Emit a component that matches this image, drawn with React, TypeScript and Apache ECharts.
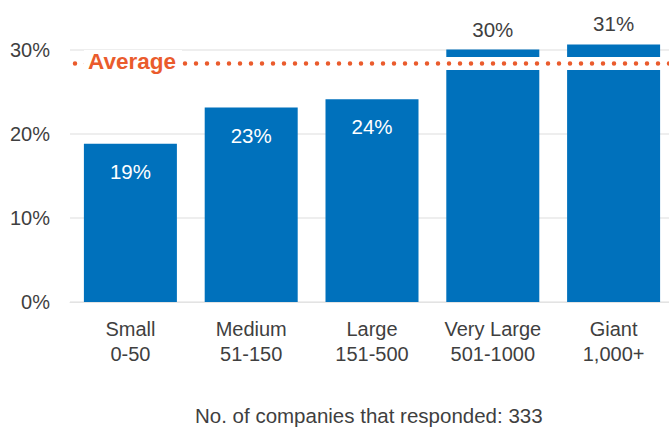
import React, { useEffect, useRef } from "react";
import * as echarts from "echarts";

const categories = ["Small\n0-50", "Medium\n51-150", "Large\n151-500", "Very Large\n501-1000", "Giant\n1,000+"];
const values = [18.8, 23.1, 24.1, 30.0, 30.6];
const valueLabels = ["19%", "23%", "24%", "30%", "31%"];
const labelOutside = [false, false, false, true, true];
const averageValue = 28.35;
const averageLabel = "Average";
const yTicks = [0, 10, 20, 30];
const footer = "No. of companies that responded: 333";

const FONT = "'Liberation Sans', Arial, Helvetica, sans-serif";
const BLUE = "#0071BC";
const ORANGE = "#EA5B2C";
const TEXT = "#3f3f3f";

export default function App() {
  const ref = useRef<HTMLDivElement>(null);
  useEffect(() => {
    document.body.style.margin = "0";
    document.body.style.overflow = "hidden";
    const chart = echarts.init(ref.current!, null, { renderer: "svg" });
    chart.setOption({
      animation: false,
      textStyle: { fontFamily: FONT },
      grid: { left: 70, right: 0, top: 49.5, bottom: 125, containLabel: false },
      title: {
        text: footer,
        left: 190,
        top: 400,
        textStyle: { fontFamily: FONT, fontSize: 20.5, fontWeight: "normal", color: TEXT },
      },
      xAxis: {
        type: "category",
        data: categories,
        axisLine: { lineStyle: { color: "#e3e3e3", width: 1 } },
        axisTick: { show: false },
        axisLabel: {
          interval: 0,
          hideOverlap: false,
          color: TEXT,
          fontSize: 20,
          lineHeight: 25,
          margin: 14,
          fontFamily: FONT,
        },
      },
      yAxis: {
        type: "value",
        min: yTicks[0],
        max: yTicks[yTicks.length - 1],
        interval: 10,
        axisLine: { show: false },
        axisTick: { show: false },
        splitLine: { lineStyle: { color: "#e8e8e8", width: 1.5 } },
        axisLabel: { color: TEXT, fontSize: 20, margin: 20, formatter: "{value}%", fontFamily: FONT },
      },
      series: [
        {
          type: "bar",
          clip: false,
          barWidth: 93,
          itemStyle: { color: BLUE },
          data: values.map((v, i) => ({
            value: v,
            label: labelOutside[i]
              ? { show: true, position: "top", distance: 10, color: TEXT }
              : { show: true, position: "insideTop", distance: 17, color: "#ffffff" },
          })),
          label: {
            show: true,
            fontSize: 20.5,
            fontFamily: FONT,
            formatter: (p: any) => valueLabels[p.dataIndex],
          },
          markLine: {
            silent: true,
            symbol: "none",
            label: { show: false },
            data: [
              { yAxis: averageValue, lineStyle: { color: "#ffffff", width: 13, type: "solid" } },
              {
                yAxis: averageValue,
                lineStyle: { color: ORANGE, width: 4.5, type: [0, 11], cap: "round", dashOffset: -5 },
              },
            ],
          },
        },
      ],
      graphic: [
        {
          type: "text",
          left: 84,
          top: 50,
          z: 100,
          style: {
            text: averageLabel,
            fill: ORANGE,
            font: `bold 22.5px ${FONT}`,
            backgroundColor: "#ffffff",
            padding: [0, 6, 0, 4],
          },
        },
      ],
    });
    return () => chart.dispose();
  }, []);
  return <div ref={ref} style={{ width: 674, height: 427 }} />;
}
